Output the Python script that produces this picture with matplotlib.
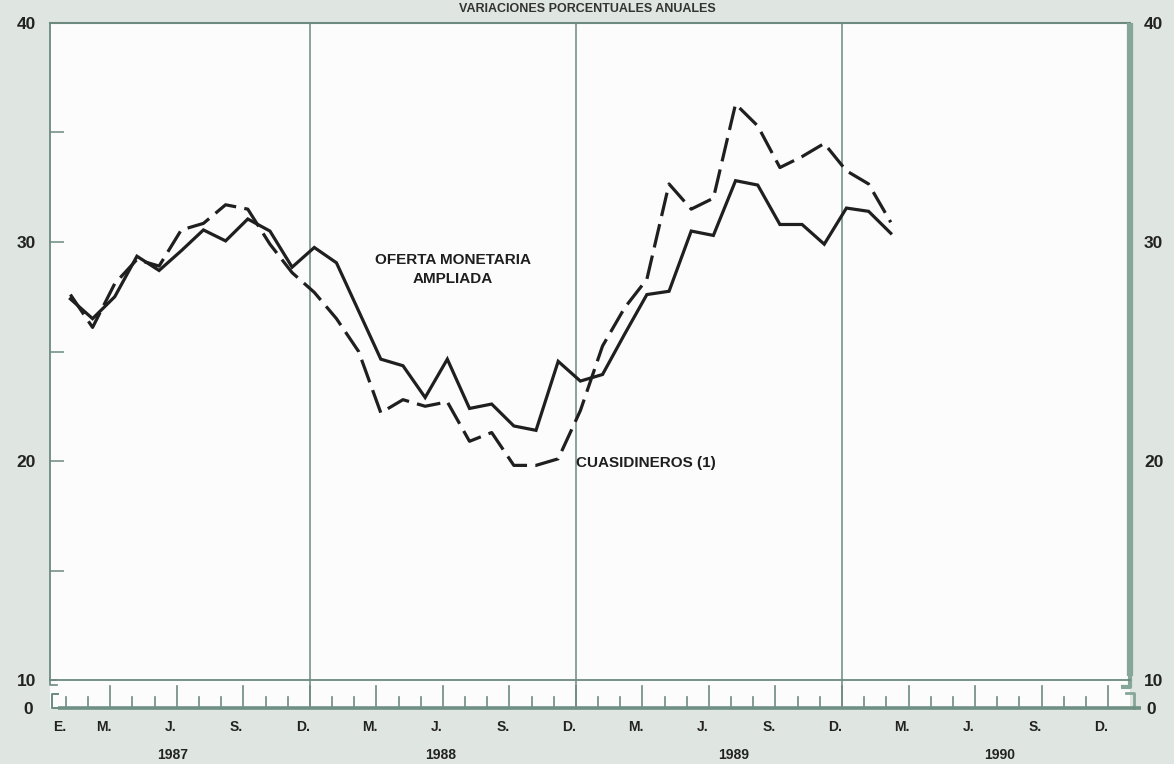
import numpy as np
import matplotlib
matplotlib.use("Agg")
import matplotlib.pyplot as plt
from matplotlib.transforms import blended_transform_factory

# ---------------- data (monthly annual % change, from Jan 1987) ----------------
oferta = [27.4, 26.5, 27.5, 29.35, 28.7, 29.6, 30.55, 30.05, 31.05, 30.5, 28.85, 29.75,
          29.05, 26.85, 24.65, 24.35, 22.9, 24.65, 22.4, 22.6, 21.6, 21.4, 24.55, 23.65,
          23.95, 25.8, 27.6, 27.75, 30.5, 30.3, 32.8, 32.6, 30.8, 30.8, 29.9, 31.55, 31.4, 30.4]
cuasi = [27.6, 26.1, 28.1, 29.2, 28.9, 30.55, 30.85, 31.7, 31.5, 29.9, 28.6, 27.7,
         26.5, 25.0, 22.2, 22.8, 22.5, 22.7, 20.9, 21.3, 19.8, 19.8, 20.1, 22.3,
         25.25, 27.0, 28.3, 32.65, 31.5, 32.0, 36.3, 35.3, 33.4, 33.9, 34.5, 33.25, 32.65, 30.9]
years = ["1987", "1988", "1989", "1990"]
month_letters = ["E.", "M.", "J.", "S.", "D."]
month_of_letter = [0, 2, 5, 8, 11]
ytick_vals = [10, 20, 30, 40]
title = "VARIACIONES PORCENTUALES ANUALES"
label_oferta = "OFERTA MONETARIA\nAMPLIADA"
label_cuasi = "CUASIDINEROS (1)"

# ---------------- style ----------------
plt.rcParams["font.family"] = ["Liberation Sans", "DejaVu Sans"]
BG = "#dfe5e1"
INNER = "#fbfcfb"
FRAME = "#6c8a80"
BAND = "#86a699"
LINE = "#1f1f1f"

W, H = 1174, 764
fig = plt.figure(figsize=(W / 100, H / 100), dpi=100, facecolor=BG)
left_px, right_px, top_px, bot_px = 50, 1130, 23, 708
ax = fig.add_axes([left_px / W, 1 - bot_px / H, (right_px - left_px) / W, (bot_px - top_px) / H])
ax.set_facecolor(INNER)

px_per_unit = (680 - 23) / 30.0
Y0 = 10 - (bot_px - 680) / px_per_unit       # position of the broken "0" baseline
ax.set_ylim(Y0, 40)
x_left, x_right = -0.72, 47.99
ax.set_xlim(x_left, x_right)

n = len(oferta)
xdata = np.arange(n) + 0.2

# series
ax.plot(xdata, oferta, color=LINE, lw=2.3, solid_joinstyle="miter", zorder=5)
ax.plot(xdata, cuasi, color=LINE, lw=2.3, linestyle=(0, (7.5, 2.6)), zorder=5)

# frame
for s in ["bottom", "right"]:
    ax.spines[s].set_visible(False)
ax.spines["left"].set_bounds(10, 40)
ax.spines["left"].set_color(FRAME)
ax.spines["left"].set_linewidth(1.3)
ax.spines["top"].set_color(FRAME)
ax.spines["top"].set_linewidth(1.5)
ax.plot([x_left, x_right], [10, 10], color=FRAME, lw=1.3, clip_on=False, zorder=3)
ax.plot([x_right, x_right], [10.2, 40], color=BAND, lw=4.5, clip_on=False, zorder=3,
        solid_capstyle="butt")

# vertical December lines
for yi in range(3):
    m = 12 * yi + 11
    ax.plot([m, m], [Y0, 40], color=FRAME, lw=1.1, zorder=2)

# baseline (0) with month ticks
ax.plot([x_left + 0.35, x_right + 0.5], [Y0, Y0], color="#6f9085", lw=2.6, clip_on=False,
        zorder=4, solid_capstyle="butt")
for m in range(48):
    long_tick = (m % 12) in (2, 5, 8, 11)
    h = 1.0 if long_tick else 0.5
    ax.plot([m, m], [Y0, Y0 + h], color="#6f8a82", lw=1.2, zorder=3)

# break marks
ax.plot([x_left, x_left + 0.25], [10.0, 10.0], color=FRAME, lw=1.3, clip_on=False)
ax.plot([x_left, x_left, x_left + 0.3], [10.0, 9.75, 9.75], color=FRAME, lw=1.2, clip_on=False)
ax.plot([x_left + 0.35, x_left + 0.1, x_left + 0.1, x_left + 0.35],
        [9.35, 9.35, Y0, Y0], color=FRAME, lw=1.4, clip_on=False)
ax.plot([x_right, x_right, x_right - 0.4], [10.2, 9.7, 9.7], color=BAND, lw=3.0,
        clip_on=False, solid_capstyle="butt")
ax.plot([x_right - 0.2, x_right + 0.2, x_right + 0.2],
        [9.4, 9.4, Y0], color=BAND, lw=2.0, clip_on=False)

# y ticks / labels
ax.set_yticks([Y0] + ytick_vals, ["0"] + [str(v) for v in ytick_vals])
ax.tick_params(axis="y", which="major", length=0, pad=10, labelsize=12.5,
               labelright=True, labelcolor="#222222")
for t in ax.yaxis.get_major_ticks():
    t.label1.set_fontweight("bold")
    t.label2.set_fontweight("bold")
ax.yaxis.get_major_ticks()[0].set_pad(12)
ax.set_yticks([15, 20, 25, 30, 35], minor=True)
ax.yaxis.remove_overlapping_locs = False
ax.tick_params(axis="y", which="minor", direction="in", length=10, width=1.1,
               color=FRAME, left=True, right=False)

# x labels
ax.set_xticks([])
trans = blended_transform_factory(ax.transData, ax.transAxes)
for yi in range(4):
    for letter, mm in zip(month_letters, month_of_letter):
        if letter == "E." and yi > 0:
            continue
        ax.text(12 * yi + mm - 0.3, -0.028, letter, transform=trans, ha="center", va="center",
                fontsize=10, fontweight="bold", color="#222222")
year_label_x = [4.8, 16.9, 30.1, 42.1]
for yx, ylab in zip(year_label_x, years):
    ax.text(yx, -0.069, ylab, transform=trans, ha="center", va="center",
            fontsize=10, fontweight="bold", color="#222222")

# annotations
ax.text(17.45, 28.75, label_oferta, ha="center", va="center", fontsize=11,
        fontweight="bold", color="#1e1e1e", linespacing=1.45)
ax.text(23.0, 19.9, label_cuasi, ha="left", va="center", fontsize=11,
        fontweight="bold", color="#1e1e1e")

# title in the strip above the frame
fig.text(0.5, 1 - 9 / H, title, ha="center", va="center", fontsize=9, fontweight="bold",
         color="#333333")

fig.savefig("out.png", dpi=100, facecolor=BG)
